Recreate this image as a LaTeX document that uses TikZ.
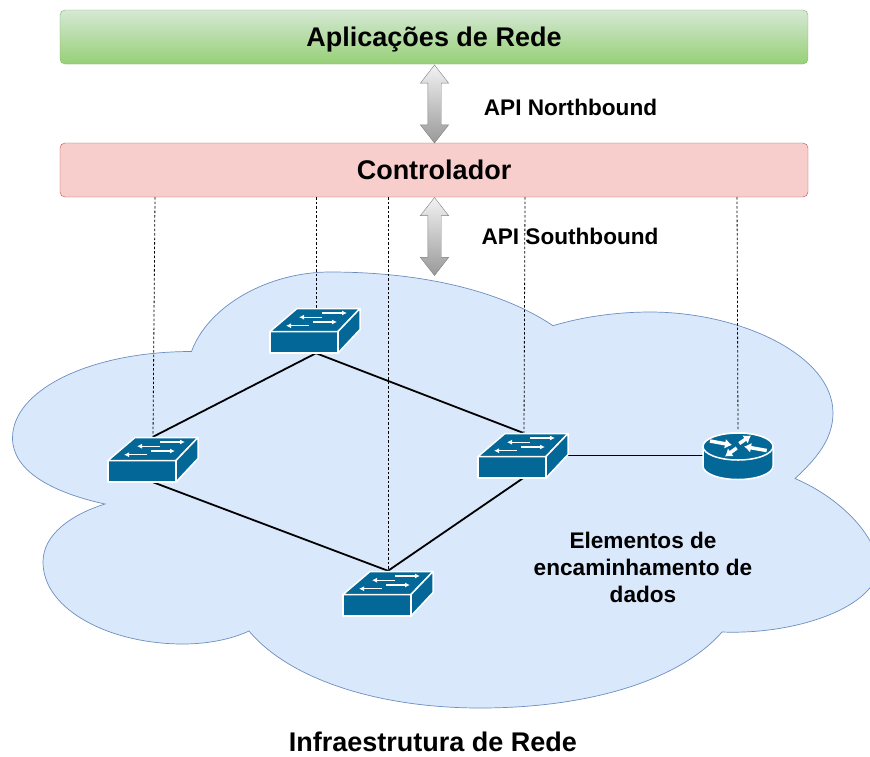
\documentclass[tikz,border=0pt]{standalone}
\usepackage{fontspec}
\setmainfont{Liberation Sans}
\usetikzlibrary{shapes.arrows, arrows.meta}
\definecolor{devblue}{HTML}{036897}
\definecolor{cloudfill}{HTML}{DAE8FC}
\definecolor{cloudline}{HTML}{6C8EBF}
\definecolor{appfilla}{HTML}{D5E8D4}
\definecolor{appfillb}{HTML}{97D077}
\definecolor{appline}{HTML}{82B366}
\definecolor{ctlfill}{HTML}{F8CECC}
\definecolor{ctlline}{HTML}{B85450}
\tikzset{
  layerbox/.style={draw, rounded corners=5pt, minimum width=748pt, minimum height=54pt, text height=19pt, text depth=0pt, font=\fontsize{27}{30}\bfseries},
  apibar/.style={double arrow, shape border rotate=90, draw=black!50, top color=black!5, bottom color=black!40, minimum height=78pt, inner sep=6.5pt, double arrow head extend=7.5pt, double arrow tip angle=76, double arrow head indent=0pt},
  switchbox/.style={minimum width=90pt, minimum height=45pt, inner sep=0pt},
  routerbox/.style={minimum width=70pt, minimum height=49pt, inner sep=0pt},
  label/.style={font=\fontsize{22.6}{27}\bfseries, align=center},
  link/.style={line width=1.8pt},
  probe/.style={dash pattern=on 2.5pt off 2pt, line width=0.8pt},
  swarrow/.style={white, line width=1.2pt, -{Latex[length=5pt, width=5pt]}},
  rtarrow/.style={white, line width=3.5pt, -{Latex[length=7pt, width=10pt]}},
  switchicon/.pic={
    \draw[white, line width=1.5pt, fill=devblue, line join=round] (-45,1) -- (-45,22.5) -- (23,22.5) -- (23,1) -- cycle;
    \draw[white, line width=1.5pt, fill=devblue, line join=round] (-45,1) -- (-18,-22) -- (45,-22) -- (23,1) -- cycle;
    \draw[white, line width=1.5pt, fill=devblue, line join=round] (23,1) -- (45,-22) -- (45,-1) -- (23,22.5) -- cycle;
    \draw[swarrow] (7,-17.5) -- (32,-17.5);
    \draw[swarrow] (7,-13.3) -- (-16,-13.3);
    \draw[swarrow] (-2,-8.5) -- (22,-8.5);
    \draw[swarrow] (-6,-4.8) -- (-29,-4.8);
  },
  routericon/.pic={
    \draw[white, line width=1.5pt, fill=devblue] (-35,-9) -- (-35,10.5) arc[start angle=180, end angle=0, x radius=35, y radius=13.5] -- (35,-9) arc[start angle=0, end angle=-180, x radius=35, y radius=13.5];
    \draw[white, line width=1.5pt, fill=devblue] (0,-9) ellipse[x radius=35, y radius=13.5];
    \draw[rtarrow] (-28,-14.5) -- (-6,-10.5);
    \draw[rtarrow] (1.3,-12) -- (13,-20);
    \draw[rtarrow] (28.7,-5) -- (6,-9);
    \draw[rtarrow] (-1.3,-7.5) -- (-13,1);
  }
}
\begin{document}
\begin{tikzpicture}[x=1pt, y=-1pt]
  \useasboundingbox (0,0) rectangle (870,756);

  \draw[cloudline, fill=cloudfill, line width=0.7pt] (191.5,351.5)
    .. controls (208,306) and (268,272) .. (330,272)
    .. controls (420,272) and (500,290) .. (553,325.7)
    .. controls (585,316) and (620,312) .. (650,312)
    .. controls (740,312) and (833,355) .. (833,413)
    .. controls (833,440) and (815,460) .. (795,478.5)
    .. controls (845,500) and (878,540) .. (878,567)
    .. controls (878,605) and (800,635) .. (722,632)
    .. controls (680,680) and (590,708) .. (480,708)
    .. controls (380,708) and (290,680) .. (249,631)
    .. controls (230,640) and (205,644) .. (183,644)
    .. controls (110,644) and (43,610) .. (43,562)
    .. controls (43,535) and (70,515) .. (105,504)
    .. controls (50,492) and (12.5,470) .. (12.5,438)
    .. controls (12.5,390) and (90,351.5) .. (191.5,351.5) -- cycle;

  \node[layerbox, draw=appline, top color=appfilla, bottom color=appfillb] (AP) at (434,37) {Aplicações de Rede};
  \node[layerbox, draw=ctlline, fill=ctlfill] (CT) at (434,170) {Controlador};

  \node[apibar] (NB) at (434.5,104) {};
  \node[apibar] (SB) at (434.5,236.5) {};
  \node[label] (NBL) at (570.5,107) {API Northbound};
  \node[label] (SBL) at (570,236) {API Southbound};

  \node[switchbox] (SWA) at (315,330.5) {};
  \node[switchbox] (SWB) at (153,459.5) {};
  \node[switchbox] (SWC) at (523,455.5) {};
  \node[switchbox] (SWD) at (388,593.5) {};
  \node[routerbox] (RT) at (738,455.5) {};

  \draw[probe] ([xshift=2pt]SWB.north |- CT.south) -- (SWB.north);
  \draw[probe] ([xshift=1pt]SWA.north |- CT.south) -- ([xshift=1pt]SWA.north);
  \draw[probe] (SWD.north |- CT.south) -- (SWD.north);
  \draw[probe] ([xshift=2pt]SWC.north |- CT.south) -- ([xshift=1pt]SWC.north);
  \draw[probe] ([xshift=-1pt]RT.north |- CT.south) -- (RT.north);

  \draw[link] ([xshift=1pt]SWA.south) -- (SWB.north);
  \draw[link] ([xshift=1pt]SWA.south) -- (SWC.north);
  \draw[link] (SWB.south) -- (SWD.north);
  \draw[link] (SWC.south) -- (SWD.north);
  \draw[link] (SWC.east) -- (RT.west);

  \foreach \sw in {SWA, SWB, SWC, SWD} {
    \pic at (\sw) {switchicon};
  }
  \pic at (RT) {routericon};

  \node[label] (EL) at (643,567) {Elementos de\\encaminhamento de\\dados};
  \node[font=\fontsize{27}{30}\bfseries] (IN) at (433,742) {Infraestrutura de Rede};
\end{tikzpicture}
\end{document}
